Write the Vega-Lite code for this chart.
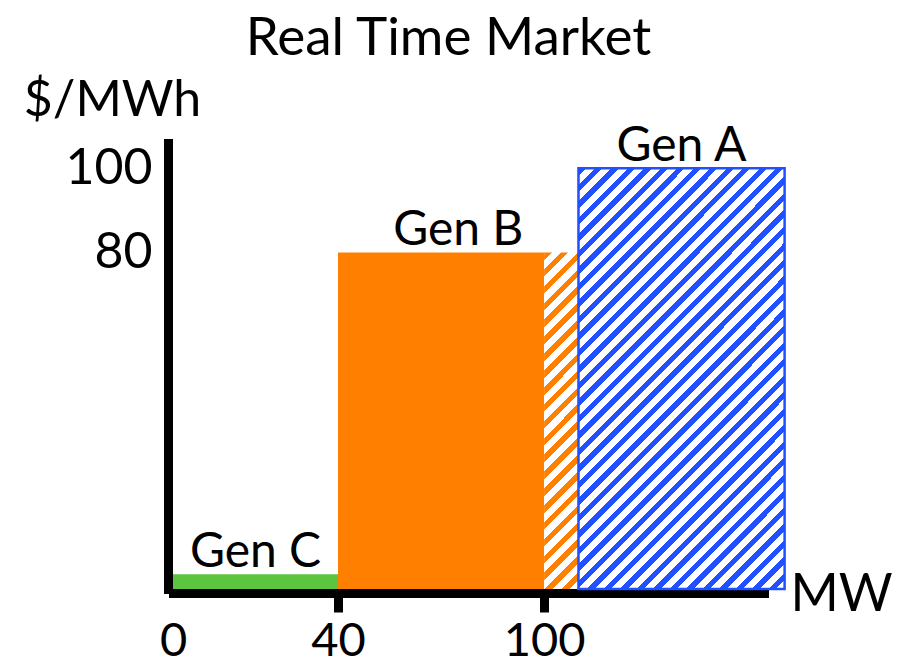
{
  "$schema": "https://vega.github.io/schema/vega-lite/v6.json",
  "autosize": {"type": "none"},
  "padding": {"left": 173, "top": 143, "right": 137, "bottom": 79},
  "width": 591,
  "height": 446,
  "background": "white",
  "title": {"text": "Real Time Market", "font": "Lato", "fontSize": 53, "fontWeight": "normal", "color": "black", "anchor": "middle", "frame": "group", "dx": -20, "offset": 20, "dy": 11},
  "config": {
    "view": {"stroke": null},
    "axis": {"grid": false, "labelFont": "Lato", "titleFont": "Lato", "labelColor": "black", "titleColor": "black", "domainColor": "black", "tickColor": "black", "labelFontWeight": "normal", "titleFontWeight": "normal"},
    "axisX": {"labelFontSize": 47, "labelPadding": 6, "labelFlush": false, "labelOverlap": false,
      "tickSize": 19, "tickWidth": 9, "domainWidth": 9, "domainCap": "square", "offset": 4,
      "titleFontSize": 52, "titleAngle": 0, "titleAlign": "center", "titleBaseline": "alphabetic", "titleX": 668, "titleY": 17},
    "axisY": {"ticks": false, "tickSize": 0, "labelFontSize": 50, "labelPadding": 16, "labelFlush": false, "labelOverlap": false,
      "domainWidth": 9, "domainCap": "square", "offset": 5,
      "titleFontSize": 50, "titleAngle": 0, "titleAlign": "center", "titleBaseline": "alphabetic", "titleX": -56, "titleY": -28}
  },
  "datasets": {
    "blocks": [
      {"gen": "Gen C", "part": "offer", "from": 0, "to": 40, "price": 3.5},
      {"gen": "Gen B", "part": "dispatched", "from": 40, "to": 100, "price": 80},
      {"gen": "Gen B", "part": "undispatched", "from": 100, "to": 110, "price": 80},
      {"gen": "Gen A", "part": "undispatched", "from": 110, "to": 170, "price": 100}
    ],
    "labels": [
      {"gen": "Gen C", "mid": 20, "price": 3.5},
      {"gen": "Gen B", "mid": 75, "price": 80},
      {"gen": "Gen A", "mid": 140, "price": 100}
    ]
  },
  "encoding": {
    "x": {"field": "from", "type": "quantitative", "title": "MW",
      "scale": {"type": "linear", "domain": [0, 40, 164], "range": [0, 165, 591], "nice": false, "zero": false},
      "axis": {"values": [0, 40, 100], "tickOpacity": {"condition": {"test": "datum.value === 0", "value": 0}, "value": 1}}},
    "y": {"field": "price", "type": "quantitative", "title": "$/MWh",
      "scale": {"domain": [0, 106], "nice": false, "zero": false},
      "axis": {"values": [80, 100]}}
  },
  "layer": [
    {
      "data": {"name": "blocks"},
      "transform": [{"filter": "datum.gen === 'Gen C'"}],
      "mark": {"type": "rect", "fill": "#5DC43F"},
      "encoding": {"x2": {"field": "to"}, "y2": {"datum": 0}}
    },
    {
      "data": {"name": "blocks"},
      "transform": [{"filter": "datum.gen === 'Gen B' && datum.part === 'dispatched'"}],
      "mark": {"type": "rect", "fill": "#FF8000"},
      "encoding": {"x2": {"field": "to"}, "y2": {"datum": 0}}
    },
    {
      "data": {"name": "blocks"},
      "transform": [{"filter": "datum.gen === 'Gen B' && datum.part === 'undispatched'"}],
      "mark": {"type": "rect", "fill": {"gradient": "linear", "x1": 0, "y1": 0, "x2": 0.1116, "y2": 1.0909, "stops": [
        {"offset": 0, "color": "#FF8000"}, {"offset": 0.0205, "color": "#FF8000"}, {"offset": 0.0205, "color": "#FFFFFF"}, {"offset": 0.0455, "color": "#FFFFFF"},
        {"offset": 0.0455, "color": "#FF8000"}, {"offset": 0.0659, "color": "#FF8000"}, {"offset": 0.0659, "color": "#FFFFFF"}, {"offset": 0.0909, "color": "#FFFFFF"},
        {"offset": 0.0909, "color": "#FF8000"}, {"offset": 0.1114, "color": "#FF8000"}, {"offset": 0.1114, "color": "#FFFFFF"}, {"offset": 0.1364, "color": "#FFFFFF"},
        {"offset": 0.1364, "color": "#FF8000"}, {"offset": 0.1568, "color": "#FF8000"}, {"offset": 0.1568, "color": "#FFFFFF"}, {"offset": 0.1818, "color": "#FFFFFF"},
        {"offset": 0.1818, "color": "#FF8000"}, {"offset": 0.2023, "color": "#FF8000"}, {"offset": 0.2023, "color": "#FFFFFF"}, {"offset": 0.2273, "color": "#FFFFFF"},
        {"offset": 0.2273, "color": "#FF8000"}, {"offset": 0.2477, "color": "#FF8000"}, {"offset": 0.2477, "color": "#FFFFFF"}, {"offset": 0.2727, "color": "#FFFFFF"},
        {"offset": 0.2727, "color": "#FF8000"}, {"offset": 0.2932, "color": "#FF8000"}, {"offset": 0.2932, "color": "#FFFFFF"}, {"offset": 0.3182, "color": "#FFFFFF"},
        {"offset": 0.3182, "color": "#FF8000"}, {"offset": 0.3386, "color": "#FF8000"}, {"offset": 0.3386, "color": "#FFFFFF"}, {"offset": 0.3636, "color": "#FFFFFF"},
        {"offset": 0.3636, "color": "#FF8000"}, {"offset": 0.3841, "color": "#FF8000"}, {"offset": 0.3841, "color": "#FFFFFF"}, {"offset": 0.4091, "color": "#FFFFFF"},
        {"offset": 0.4091, "color": "#FF8000"}, {"offset": 0.4295, "color": "#FF8000"}, {"offset": 0.4295, "color": "#FFFFFF"}, {"offset": 0.4545, "color": "#FFFFFF"},
        {"offset": 0.4545, "color": "#FF8000"}, {"offset": 0.4750, "color": "#FF8000"}, {"offset": 0.4750, "color": "#FFFFFF"}, {"offset": 0.5, "color": "#FFFFFF"},
        {"offset": 0.5, "color": "#FF8000"}, {"offset": 0.5205, "color": "#FF8000"}, {"offset": 0.5205, "color": "#FFFFFF"}, {"offset": 0.5455, "color": "#FFFFFF"},
        {"offset": 0.5455, "color": "#FF8000"}, {"offset": 0.5659, "color": "#FF8000"}, {"offset": 0.5659, "color": "#FFFFFF"}, {"offset": 0.5909, "color": "#FFFFFF"},
        {"offset": 0.5909, "color": "#FF8000"}, {"offset": 0.6114, "color": "#FF8000"}, {"offset": 0.6114, "color": "#FFFFFF"}, {"offset": 0.6364, "color": "#FFFFFF"},
        {"offset": 0.6364, "color": "#FF8000"}, {"offset": 0.6568, "color": "#FF8000"}, {"offset": 0.6568, "color": "#FFFFFF"}, {"offset": 0.6818, "color": "#FFFFFF"},
        {"offset": 0.6818, "color": "#FF8000"}, {"offset": 0.7023, "color": "#FF8000"}, {"offset": 0.7023, "color": "#FFFFFF"}, {"offset": 0.7273, "color": "#FFFFFF"},
        {"offset": 0.7273, "color": "#FF8000"}, {"offset": 0.7477, "color": "#FF8000"}, {"offset": 0.7477, "color": "#FFFFFF"}, {"offset": 0.7727, "color": "#FFFFFF"},
        {"offset": 0.7727, "color": "#FF8000"}, {"offset": 0.7932, "color": "#FF8000"}, {"offset": 0.7932, "color": "#FFFFFF"}, {"offset": 0.8182, "color": "#FFFFFF"},
        {"offset": 0.8182, "color": "#FF8000"}, {"offset": 0.8386, "color": "#FF8000"}, {"offset": 0.8386, "color": "#FFFFFF"}, {"offset": 0.8636, "color": "#FFFFFF"},
        {"offset": 0.8636, "color": "#FF8000"}, {"offset": 0.8841, "color": "#FF8000"}, {"offset": 0.8841, "color": "#FFFFFF"}, {"offset": 0.9091, "color": "#FFFFFF"},
        {"offset": 0.9091, "color": "#FF8000"}, {"offset": 0.9295, "color": "#FF8000"}, {"offset": 0.9295, "color": "#FFFFFF"}, {"offset": 0.9545, "color": "#FFFFFF"},
        {"offset": 0.9545, "color": "#FF8000"}, {"offset": 0.9750, "color": "#FF8000"}, {"offset": 0.9750, "color": "#FFFFFF"}, {"offset": 1, "color": "#FFFFFF"}
      ]}},
      "encoding": {"x2": {"field": "to"}, "y2": {"datum": 0}}
    },
    {
      "data": {"name": "blocks"},
      "transform": [{"filter": "datum.gen === 'Gen A'"}],
      "mark": {"type": "rect", "stroke": "#2050FF", "strokeWidth": 2.5, "fill": {"gradient": "linear", "x1": 0, "y1": 0, "x2": 0.5896, "y2": 1.2014, "stops": [
        {"offset": 0, "color": "#2050FF"}, {"offset": 0.0118, "color": "#2050FF"}, {"offset": 0.0118, "color": "#FFFFFF"}, {"offset": 0.0263, "color": "#FFFFFF"},
        {"offset": 0.0263, "color": "#2050FF"}, {"offset": 0.0382, "color": "#2050FF"}, {"offset": 0.0382, "color": "#FFFFFF"}, {"offset": 0.0526, "color": "#FFFFFF"},
        {"offset": 0.0526, "color": "#2050FF"}, {"offset": 0.0645, "color": "#2050FF"}, {"offset": 0.0645, "color": "#FFFFFF"}, {"offset": 0.0789, "color": "#FFFFFF"},
        {"offset": 0.0789, "color": "#2050FF"}, {"offset": 0.0908, "color": "#2050FF"}, {"offset": 0.0908, "color": "#FFFFFF"}, {"offset": 0.1053, "color": "#FFFFFF"},
        {"offset": 0.1053, "color": "#2050FF"}, {"offset": 0.1171, "color": "#2050FF"}, {"offset": 0.1171, "color": "#FFFFFF"}, {"offset": 0.1316, "color": "#FFFFFF"},
        {"offset": 0.1316, "color": "#2050FF"}, {"offset": 0.1434, "color": "#2050FF"}, {"offset": 0.1434, "color": "#FFFFFF"}, {"offset": 0.1579, "color": "#FFFFFF"},
        {"offset": 0.1579, "color": "#2050FF"}, {"offset": 0.1697, "color": "#2050FF"}, {"offset": 0.1697, "color": "#FFFFFF"}, {"offset": 0.1842, "color": "#FFFFFF"},
        {"offset": 0.1842, "color": "#2050FF"}, {"offset": 0.1960, "color": "#2050FF"}, {"offset": 0.1960, "color": "#FFFFFF"}, {"offset": 0.2105, "color": "#FFFFFF"},
        {"offset": 0.2105, "color": "#2050FF"}, {"offset": 0.2224, "color": "#2050FF"}, {"offset": 0.2224, "color": "#FFFFFF"}, {"offset": 0.2368, "color": "#FFFFFF"},
        {"offset": 0.2368, "color": "#2050FF"}, {"offset": 0.2487, "color": "#2050FF"}, {"offset": 0.2487, "color": "#FFFFFF"}, {"offset": 0.2632, "color": "#FFFFFF"},
        {"offset": 0.2632, "color": "#2050FF"}, {"offset": 0.2750, "color": "#2050FF"}, {"offset": 0.2750, "color": "#FFFFFF"}, {"offset": 0.2895, "color": "#FFFFFF"},
        {"offset": 0.2895, "color": "#2050FF"}, {"offset": 0.3013, "color": "#2050FF"}, {"offset": 0.3013, "color": "#FFFFFF"}, {"offset": 0.3158, "color": "#FFFFFF"},
        {"offset": 0.3158, "color": "#2050FF"}, {"offset": 0.3276, "color": "#2050FF"}, {"offset": 0.3276, "color": "#FFFFFF"}, {"offset": 0.3421, "color": "#FFFFFF"},
        {"offset": 0.3421, "color": "#2050FF"}, {"offset": 0.3539, "color": "#2050FF"}, {"offset": 0.3539, "color": "#FFFFFF"}, {"offset": 0.3684, "color": "#FFFFFF"},
        {"offset": 0.3684, "color": "#2050FF"}, {"offset": 0.3803, "color": "#2050FF"}, {"offset": 0.3803, "color": "#FFFFFF"}, {"offset": 0.3947, "color": "#FFFFFF"},
        {"offset": 0.3947, "color": "#2050FF"}, {"offset": 0.4066, "color": "#2050FF"}, {"offset": 0.4066, "color": "#FFFFFF"}, {"offset": 0.4211, "color": "#FFFFFF"},
        {"offset": 0.4211, "color": "#2050FF"}, {"offset": 0.4329, "color": "#2050FF"}, {"offset": 0.4329, "color": "#FFFFFF"}, {"offset": 0.4474, "color": "#FFFFFF"},
        {"offset": 0.4474, "color": "#2050FF"}, {"offset": 0.4592, "color": "#2050FF"}, {"offset": 0.4592, "color": "#FFFFFF"}, {"offset": 0.4737, "color": "#FFFFFF"},
        {"offset": 0.4737, "color": "#2050FF"}, {"offset": 0.4855, "color": "#2050FF"}, {"offset": 0.4855, "color": "#FFFFFF"}, {"offset": 0.5, "color": "#FFFFFF"},
        {"offset": 0.5, "color": "#2050FF"}, {"offset": 0.5118, "color": "#2050FF"}, {"offset": 0.5118, "color": "#FFFFFF"}, {"offset": 0.5263, "color": "#FFFFFF"},
        {"offset": 0.5263, "color": "#2050FF"}, {"offset": 0.5382, "color": "#2050FF"}, {"offset": 0.5382, "color": "#FFFFFF"}, {"offset": 0.5526, "color": "#FFFFFF"},
        {"offset": 0.5526, "color": "#2050FF"}, {"offset": 0.5645, "color": "#2050FF"}, {"offset": 0.5645, "color": "#FFFFFF"}, {"offset": 0.5789, "color": "#FFFFFF"},
        {"offset": 0.5789, "color": "#2050FF"}, {"offset": 0.5908, "color": "#2050FF"}, {"offset": 0.5908, "color": "#FFFFFF"}, {"offset": 0.6053, "color": "#FFFFFF"},
        {"offset": 0.6053, "color": "#2050FF"}, {"offset": 0.6171, "color": "#2050FF"}, {"offset": 0.6171, "color": "#FFFFFF"}, {"offset": 0.6316, "color": "#FFFFFF"},
        {"offset": 0.6316, "color": "#2050FF"}, {"offset": 0.6434, "color": "#2050FF"}, {"offset": 0.6434, "color": "#FFFFFF"}, {"offset": 0.6579, "color": "#FFFFFF"},
        {"offset": 0.6579, "color": "#2050FF"}, {"offset": 0.6697, "color": "#2050FF"}, {"offset": 0.6697, "color": "#FFFFFF"}, {"offset": 0.6842, "color": "#FFFFFF"},
        {"offset": 0.6842, "color": "#2050FF"}, {"offset": 0.6961, "color": "#2050FF"}, {"offset": 0.6961, "color": "#FFFFFF"}, {"offset": 0.7105, "color": "#FFFFFF"},
        {"offset": 0.7105, "color": "#2050FF"}, {"offset": 0.7224, "color": "#2050FF"}, {"offset": 0.7224, "color": "#FFFFFF"}, {"offset": 0.7368, "color": "#FFFFFF"},
        {"offset": 0.7368, "color": "#2050FF"}, {"offset": 0.7487, "color": "#2050FF"}, {"offset": 0.7487, "color": "#FFFFFF"}, {"offset": 0.7632, "color": "#FFFFFF"},
        {"offset": 0.7632, "color": "#2050FF"}, {"offset": 0.7750, "color": "#2050FF"}, {"offset": 0.7750, "color": "#FFFFFF"}, {"offset": 0.7895, "color": "#FFFFFF"},
        {"offset": 0.7895, "color": "#2050FF"}, {"offset": 0.8013, "color": "#2050FF"}, {"offset": 0.8013, "color": "#FFFFFF"}, {"offset": 0.8158, "color": "#FFFFFF"},
        {"offset": 0.8158, "color": "#2050FF"}, {"offset": 0.8276, "color": "#2050FF"}, {"offset": 0.8276, "color": "#FFFFFF"}, {"offset": 0.8421, "color": "#FFFFFF"},
        {"offset": 0.8421, "color": "#2050FF"}, {"offset": 0.8539, "color": "#2050FF"}, {"offset": 0.8539, "color": "#FFFFFF"}, {"offset": 0.8684, "color": "#FFFFFF"},
        {"offset": 0.8684, "color": "#2050FF"}, {"offset": 0.8803, "color": "#2050FF"}, {"offset": 0.8803, "color": "#FFFFFF"}, {"offset": 0.8947, "color": "#FFFFFF"},
        {"offset": 0.8947, "color": "#2050FF"}, {"offset": 0.9066, "color": "#2050FF"}, {"offset": 0.9066, "color": "#FFFFFF"}, {"offset": 0.9211, "color": "#FFFFFF"},
        {"offset": 0.9211, "color": "#2050FF"}, {"offset": 0.9329, "color": "#2050FF"}, {"offset": 0.9329, "color": "#FFFFFF"}, {"offset": 0.9474, "color": "#FFFFFF"},
        {"offset": 0.9474, "color": "#2050FF"}, {"offset": 0.9592, "color": "#2050FF"}, {"offset": 0.9592, "color": "#FFFFFF"}, {"offset": 0.9737, "color": "#FFFFFF"},
        {"offset": 0.9737, "color": "#2050FF"}, {"offset": 0.9855, "color": "#2050FF"}, {"offset": 0.9855, "color": "#FFFFFF"}, {"offset": 1, "color": "#FFFFFF"}
      ]}},
      "encoding": {"x2": {"field": "to"}, "y2": {"datum": 0}}
    },
    {
      "data": {"name": "labels"},
      "mark": {"type": "text", "font": "Lato", "fontSize": 48, "color": "black", "align": "center", "baseline": "alphabetic", "dy": -7},
      "encoding": {
        "x": {"field": "mid", "type": "quantitative", "title": "MW", "scale": {"type": "linear", "domain": [0, 40, 164], "range": [0, 165, 591], "nice": false, "zero": false}},
        "text": {"field": "gen"}
      }
    }
  ]
}
